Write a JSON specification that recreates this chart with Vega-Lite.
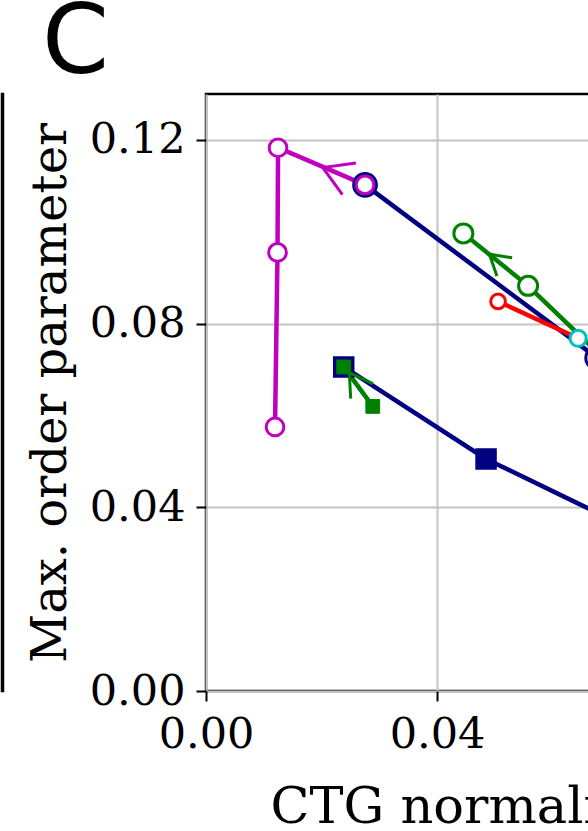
{
  "$schema": "https://vega.github.io/schema/vega-lite/v6.json",
  "background": "white",
  "padding": {"left": 0, "top": -5, "right": 0, "bottom": 0},
  "title": {"text": "C", "anchor": "start", "frame": "group", "font": "DejaVu Sans", "fontSize": 96, "fontWeight": "normal", "color": "black", "dx": 40, "offset": -96, "baseline": "bottom"},
  "bounds": "flush",
  "spacing": 203,
  "datasets": {
    "pts": [
      {"series": "A", "x": 0.01195, "y": 0.0575, "order": 1},
      {"series": "A", "x": 0.01238, "y": 0.0955, "order": 2},
      {"series": "A", "x": 0.01247, "y": 0.1183, "order": 3},
      {"series": "A", "x": 0.02753, "y": 0.1102, "order": 4},
      {"series": "B", "x": 0.02753, "y": 0.1102, "order": 1},
      {"series": "B", "x": 0.06771, "y": 0.07253, "order": 2},
      {"series": "C", "x": 0.04455, "y": 0.09965, "order": 1},
      {"series": "C", "x": 0.05576, "y": 0.08822, "order": 2},
      {"series": "C", "x": 0.0684, "y": 0.07297, "order": 3},
      {"series": "D", "x": 0.05056, "y": 0.08484, "order": 1},
      {"series": "D", "x": 0.06442, "y": 0.0768, "order": 2},
      {"series": "E", "x": 0.06442, "y": 0.0768, "order": 1},
      {"series": "F", "x": 0.02384, "y": 0.07057, "order": 1},
      {"series": "F", "x": 0.04848, "y": 0.05053, "order": 2},
      {"series": "F", "x": 0.07186, "y": 0.03627, "order": 3},
      {"series": "G", "x": 0.02887, "y": 0.06197, "order": 1},
      {"series": "G", "x": 0.02384, "y": 0.07057, "order": 2}
    ],
    "arrows": [
      {"series": "A", "x": 0.02021, "y": 0.11398},
      {"series": "C", "x": 0.04906, "y": 0.09512},
      {"series": "G", "x": 0.02481, "y": 0.06933}
    ]
  },
  "hconcat": [
    {
      "width": 1,
      "height": 597,
      "data": {"name": "pts"},
      "mark": {"type": "point", "opacity": 0, "size": 0, "strokeWidth": 0},
      "encoding": {
        "x": {"field": "x", "type": "quantitative", "axis": null},
        "y": {"field": "y", "type": "quantitative", "axis": null}
      }
    },
    {
      "width": 751,
      "height": 597,
      "data": {"name": "pts"},
      "layer": [
        {
          "mark": {"type": "line", "strokeWidth": 4.5},
          "encoding": {
            "x": {"field": "x", "type": "quantitative", "scale": {"domain": [0, 0.13], "nice": false, "zero": false},
              "axis": {"values": [0, 0.04, 0.08, 0.12], "format": ".2f", "title": "CTG normalized frequency", "titleAnchor": "start", "titleAlign": "left", "titleX": 64, "labelPadding": 12, "titlePadding": 26, "titleFontSize": 51, "labelFont": "DejaVu Serif", "titleFont": "DejaVu Serif"}},
            "y": {"field": "y", "type": "quantitative", "scale": {"domain": [0, 0.13], "nice": false, "zero": false},
              "axis": {"values": [0, 0.04, 0.08, 0.12], "format": ".2f", "title": "Max. order parameter", "labelPadding": 11, "titlePadding": 14, "labelFont": "DejaVu Serif", "titleFont": "DejaVu Serif"}},
            "color": {"field": "series", "type": "nominal", "legend": null,
              "scale": {"domain": ["A", "B", "C", "D", "E", "F", "G"], "range": ["#bf00bf", "#000080", "#008000", "#ff0000", "#00bfbf", "#000080", "#008000"]}},
            "order": {"field": "order", "type": "quantitative"}
          }
        },
        {
          "transform": [{"filter": "datum.series === 'B'"}],
          "mark": {"type": "point", "shape": "circle", "filled": true, "fill": "white", "stroke": "#000080", "strokeWidth": 3, "size": 515, "opacity": 1},
          "encoding": {"x": {"field": "x", "type": "quantitative"}, "y": {"field": "y", "type": "quantitative"}}
        },
        {
          "transform": [{"filter": "datum.series === 'A'"}],
          "mark": {"type": "point", "shape": "circle", "filled": true, "fill": "white", "stroke": "#bf00bf", "strokeWidth": 3, "size": 313, "opacity": 1},
          "encoding": {"x": {"field": "x", "type": "quantitative"}, "y": {"field": "y", "type": "quantitative"}}
        },
        {
          "transform": [{"filter": "datum.series === 'C'"}],
          "mark": {"type": "point", "shape": "circle", "filled": true, "fill": "white", "stroke": "#008000", "strokeWidth": 3, "size": 361, "opacity": 1},
          "encoding": {"x": {"field": "x", "type": "quantitative"}, "y": {"field": "y", "type": "quantitative"}}
        },
        {
          "transform": [{"filter": "datum.series === 'D'"}],
          "mark": {"type": "point", "shape": "circle", "filled": true, "fill": "white", "stroke": "#ff0000", "strokeWidth": 3, "size": 216, "opacity": 1},
          "encoding": {"x": {"field": "x", "type": "quantitative"}, "y": {"field": "y", "type": "quantitative"}}
        },
        {
          "transform": [{"filter": "datum.series === 'E'"}],
          "mark": {"type": "point", "shape": "circle", "filled": true, "fill": "white", "stroke": "#00bfbf", "strokeWidth": 3, "size": 260, "opacity": 1},
          "encoding": {"x": {"field": "x", "type": "quantitative"}, "y": {"field": "y", "type": "quantitative"}}
        },
        {
          "transform": [{"filter": "datum.series === 'F'"}],
          "mark": {"type": "point", "shape": "square", "filled": true, "fill": "#000080", "stroke": "#000080", "strokeWidth": 2, "size": 380, "opacity": 1},
          "encoding": {"x": {"field": "x", "type": "quantitative"}, "y": {"field": "y", "type": "quantitative"}}
        },
        {
          "transform": [{"filter": "datum.series === 'G'"}],
          "mark": {"type": "point", "shape": "square", "filled": true, "fill": "#008000", "stroke": "#008000", "strokeWidth": 1, "size": 190, "opacity": 1},
          "encoding": {"x": {"field": "x", "type": "quantitative"}, "y": {"field": "y", "type": "quantitative"}}
        },
        {
          "data": {"name": "arrows"},
          "transform": [{"filter": "datum.series === 'A'"}],
          "mark": {"type": "point", "shape": "M 0.857 -0.515 L 0 0 L 0.857 0.515", "filled": false, "stroke": "#bf00bf", "strokeWidth": 3, "size": 4489, "angle": 23, "opacity": 1},
          "encoding": {"x": {"field": "x", "type": "quantitative"}, "y": {"field": "y", "type": "quantitative"}}
        },
        {
          "data": {"name": "arrows"},
          "transform": [{"filter": "datum.series === 'C'"}],
          "mark": {"type": "point", "shape": "M 0.857 -0.515 L 0 0 L 0.857 0.515", "filled": false, "stroke": "#008000", "strokeWidth": 3, "size": 2116, "angle": 40, "opacity": 1},
          "encoding": {"x": {"field": "x", "type": "quantitative"}, "y": {"field": "y", "type": "quantitative"}}
        },
        {
          "data": {"name": "arrows"},
          "transform": [{"filter": "datum.series === 'G'"}],
          "mark": {"type": "point", "shape": "M 0.857 -0.515 L 0 0 L 0.857 0.515", "filled": false, "stroke": "#008000", "strokeWidth": 3, "size": 2704, "angle": 56, "opacity": 1},
          "encoding": {"x": {"field": "x", "type": "quantitative"}, "y": {"field": "y", "type": "quantitative"}}
        }
      ]
    }
  ],
  "config": {
    "font": "DejaVu Serif",
    "view": {"stroke": "black", "strokeWidth": 2.5},
    "axis": {
      "domain": false,
      "labelFont": "DejaVu Serif", "labelFontSize": 43, "labelColor": "black",
      "titleFont": "DejaVu Serif", "titleFontSize": 48, "titleFontWeight": "normal", "titleColor": "black",
      "tickColor": "black", "tickWidth": 2, "tickSize": 10,
      "gridColor": "#c4c4c4", "gridWidth": 2, "labelFlush": false, "labelOverlap": false
    }
  }
}
